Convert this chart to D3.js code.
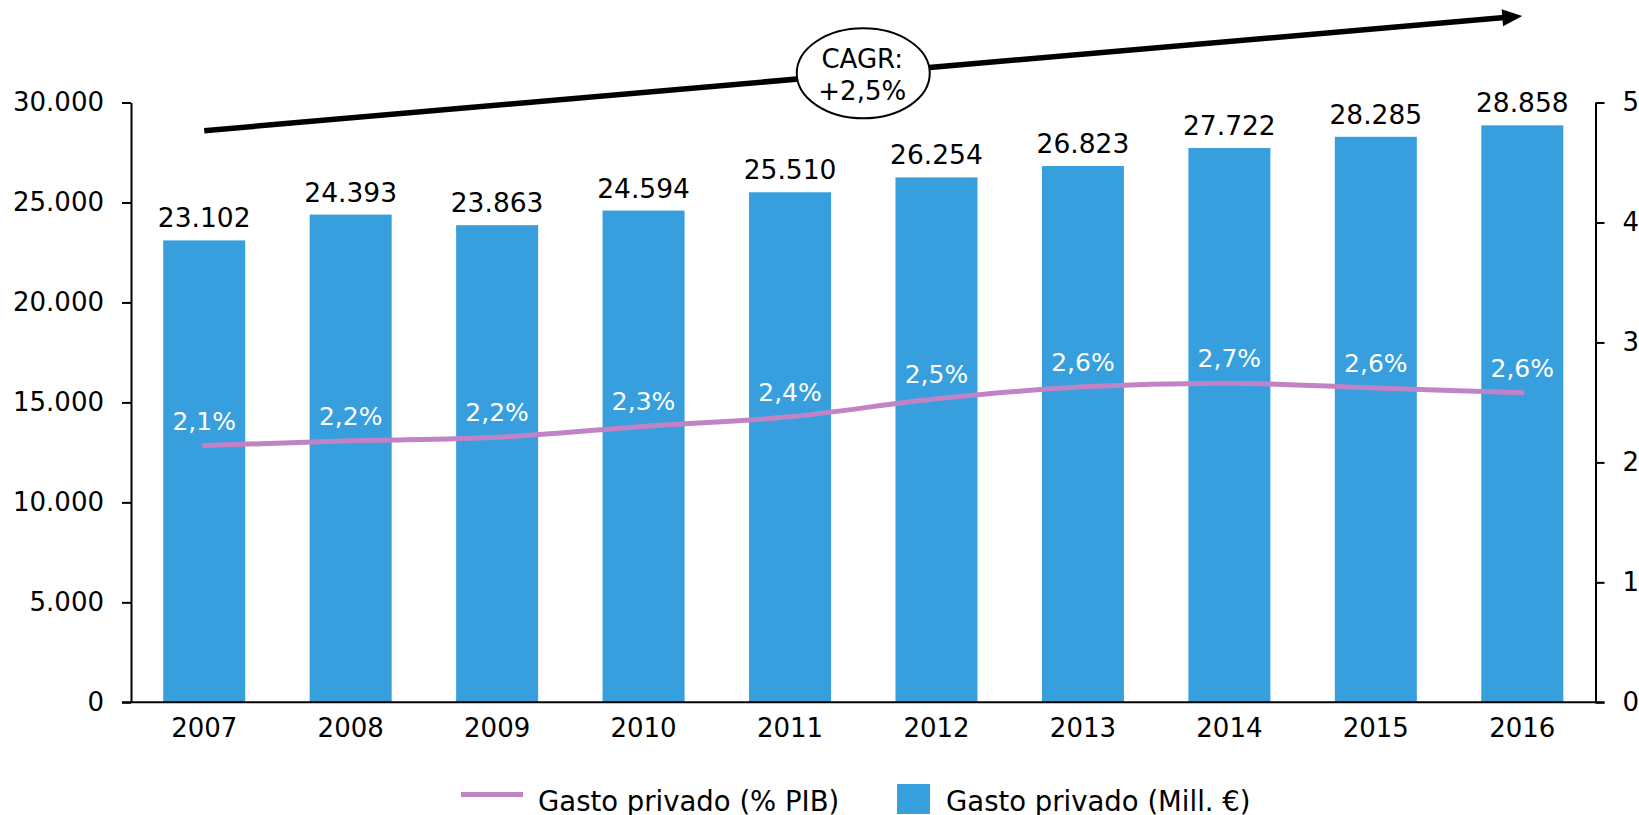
<!DOCTYPE html>
<html>
<head>
<meta charset="utf-8">
<script src="https://cdn.jsdelivr.net/npm/d3@7"></script>
<style>
  body { margin: 0; background: #fff; }
  text { font-family: "DejaVu Sans", Verdana, sans-serif; }
</style>
</head>
<body>
<script>
// datos
var years = ["2007", "2008", "2009", "2010", "2011", "2012", "2013", "2014", "2015", "2016"];
var gastoMill = [23102, 24393, 23863, 24594, 25510, 26254, 26823, 27722, 28285, 28858];
var gastoPib = [2.14, 2.18, 2.21, 2.30, 2.38, 2.53, 2.63, 2.66, 2.62, 2.58];
var leftTicks = [0, 5000, 10000, 15000, 20000, 25000, 30000];
var rightTicks = [0, 1, 2, 3, 4, 5];
var cagrText = ["CAGR:", "+2,5%"];
var legendLabels = ["Gasto privado (% PIB)", "Gasto privado (Mill. €)"];

var barColor = "#379fdd",
    lineColor = "#c084c6";

var width = 1639, height = 815;
var plotLeft = 131, plotRight = 1595.5, plotTop = 102.5, plotBottom = 702.3;

var es = d3.formatLocale({decimal: ",", thousands: ".", grouping: [3], currency: ["", "€"]});
var fmtMill = es.format(",.0f");
var fmtPct = function(v) { return es.format(".1f")(v) + "%"; };

var svg = d3.select("body").append("svg")
    .attr("width", width)
    .attr("height", height);

var x = d3.scaleBand().domain(years).range([plotLeft, plotRight])
    .paddingInner(0.44).paddingOuter(0.22);
var yL = d3.scaleLinear().domain([0, 30000]).range([plotBottom, plotTop]);
var yR = d3.scaleLinear().domain([0, 5]).range([plotBottom, plotTop]);

var data = years.map(function(y, i) {
  return {year: y, mill: gastoMill[i], pib: gastoPib[i]};
});

// barras
svg.selectAll(".bar").data(data).enter().append("rect")
    .attr("class", "bar")
    .attr("x", function(d) { return x(d.year); })
    .attr("y", function(d) { return yL(d.mill); })
    .attr("width", x.bandwidth())
    .attr("height", function(d) { return yL(0) - yL(d.mill); })
    .attr("fill", barColor);

svg.selectAll(".barlabel").data(data).enter().append("text")
    .attr("x", function(d) { return x(d.year) + x.bandwidth() / 2; })
    .attr("y", function(d) { return yL(d.mill) - 13; })
    .attr("text-anchor", "middle")
    .attr("font-size", 26.5)
    .attr("fill", "#000")
    .text(function(d) { return fmtMill(d.mill); });

// linea % PIB
var line = d3.line()
    .x(function(d) { return x(d.year) + x.bandwidth() / 2; })
    .y(function(d) { return yR(d.pib); })
    .curve(d3.curveCatmullRom.alpha(0.5));

svg.append("path")
    .datum(data)
    .attr("d", line)
    .attr("fill", "none")
    .attr("stroke", lineColor)
    .attr("stroke-width", 5)
    .attr("stroke-linecap", "round");

svg.selectAll(".pctlabel").data(data).enter().append("text")
    .attr("x", function(d) { return x(d.year) + x.bandwidth() / 2; })
    .attr("y", function(d) { return yR(d.pib) - 16; })
    .attr("text-anchor", "middle")
    .attr("font-size", 25)
    .attr("fill", "#fff")
    .text(function(d) { return fmtPct(d.pib); });

// ejes
function styleAxis(g) {
  g.attr("font-size", 26).attr("font-family", "DejaVu Sans, Verdana, sans-serif");
  g.selectAll("path, line").attr("stroke", "#000").attr("stroke-width", 2);
  g.selectAll("text").attr("fill", "#000");
}

svg.append("g")
    .attr("transform", "translate(" + plotLeft + ",0)")
    .call(d3.axisLeft(yL).tickValues(leftTicks).tickFormat(fmtMill)
      .tickSize(9).tickSizeOuter(0).tickPadding(18))
    .call(styleAxis);

svg.append("g")
    .attr("transform", "translate(" + plotRight + ",0)")
    .call(d3.axisRight(yR).tickValues(rightTicks).tickFormat(d3.format("d"))
      .tickSize(9).tickSizeOuter(0).tickPadding(18))
    .call(styleAxis);

var xAxis = svg.append("g")
    .attr("transform", "translate(0," + plotBottom + ")")
    .call(d3.axisBottom(x).tickSize(0).tickPadding(16))
    .call(styleAxis);
xAxis.select(".domain").remove();
xAxis.append("line")
    .attr("x1", plotLeft - 9).attr("x2", plotRight + 9)
    .attr("stroke", "#000").attr("stroke-width", 2);

// flecha CAGR
var x0 = x(years[0]) + x.bandwidth() / 2,
    x1 = x(years[years.length - 1]) + x.bandwidth() / 2,
    ya = yL(28590), yb = yL(34330);
var ang = Math.atan2(yb - ya, x1 - x0);
var headLen = 20, headHalf = 8.5;
var bx = x1 - headLen * Math.cos(ang), by = yb - headLen * Math.sin(ang);

svg.append("line")
    .attr("x1", x0).attr("y1", ya)
    .attr("x2", bx + 2 * Math.cos(ang)).attr("y2", by + 2 * Math.sin(ang))
    .attr("stroke", "#000").attr("stroke-width", 5.5);

svg.append("path")
    .attr("d", "M" + x1 + "," + yb +
      "L" + (bx - headHalf * Math.sin(ang)) + "," + (by + headHalf * Math.cos(ang)) +
      "L" + (bx + headHalf * Math.sin(ang)) + "," + (by - headHalf * Math.cos(ang)) + "Z")
    .attr("fill", "#000");

var cx = (x("2011") + x("2012")) / 2 + x.bandwidth() / 2;
var cy = ya + (cx - x0) * Math.tan(ang);

svg.append("ellipse")
    .attr("cx", cx).attr("cy", cy)
    .attr("rx", 66.5).attr("ry", 45)
    .attr("fill", "#fff").attr("stroke", "#000").attr("stroke-width", 2);

svg.selectAll(".cagr").data(cagrText).enter().append("text")
    .attr("x", cx - 1)
    .attr("y", function(d, i) { return cy - 5 + i * 31.7; })
    .attr("text-anchor", "middle")
    .attr("font-size", 26)
    .text(function(d) { return d; });

// leyenda
var legend = svg.append("g");
legend.append("line")
    .attr("x1", 461).attr("x2", 523)
    .attr("y1", 794.5).attr("y2", 794.5)
    .attr("stroke", lineColor).attr("stroke-width", 5);
legend.append("text")
    .attr("x", 538).attr("y", 811)
    .attr("font-size", 27.5)
    .text(legendLabels[0]);
legend.append("rect")
    .attr("x", 897).attr("y", 784)
    .attr("width", 33).attr("height", 30)
    .attr("fill", barColor);
legend.append("text")
    .attr("x", 946).attr("y", 811)
    .attr("font-size", 27.5)
    .text(legendLabels[1]);
</script>
</body>
</html>
